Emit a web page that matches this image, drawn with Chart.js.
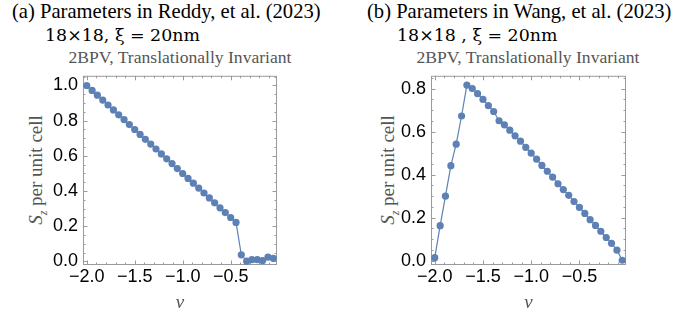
<!DOCTYPE html>
<html>
<head>
<meta charset="utf-8">
<script src="https://cdn.jsdelivr.net/npm/chart.js@4.4.1/dist/chart.umd.min.js"></script>
<style>
body { margin: 0; width: 680px; height: 318px; background: #fff; position: relative; overflow: hidden; }
.titulo { position: absolute; font-family: "Liberation Serif", serif; font-size: 20.6px; line-height: 21px; color: #000; white-space: nowrap; }
.linea2 { position: absolute; font-family: "DejaVu Serif", serif; font-size: 17.4px; line-height: 17px; color: #000; white-space: nowrap; }
.subtitulo { position: absolute; font-family: "Liberation Serif", serif; font-size: 17.6px; line-height: 17px; color: #555; white-space: nowrap; text-align: center; width: 260px; }
.ylabel { position: absolute; font-family: "Liberation Serif", serif; font-size: 19px; color: #555; white-space: nowrap; transform: translate(-50%, -50%) rotate(-90deg); }
.ylabel sub { font-size: 12px; }
.panel { position: absolute; top: 60px; width: 290px; height: 258px; }
</style>
</head>
<body>

<div class="titulo" style="left:12px; top:1px;">(a) Parameters in Reddy, et al. (2023)</div>
<div class="linea2" style="left:45px; top:27px;">18×18, ξ = 20nm</div>
<div class="subtitulo" style="left:50px; top:49px;">2BPV, Translationally Invariant</div>
<div class="ylabel" style="left:38px; top:170px;"><i>S</i><sub><i>z</i></sub> per unit cell</div>
<div class="panel" style="left:0px;"><canvas id="grafico-a" width="290" height="258"></canvas></div>

<div class="titulo" style="left:367px; top:1px;">(b) Parameters in Wang, et al. (2023)</div>
<div class="linea2" style="left:397px; top:27px;">18×18 , ξ = 20nm</div>
<div class="subtitulo" style="left:398px; top:49px;">2BPV, Translationally Invariant</div>
<div class="ylabel" style="left:390px; top:170px;"><i>S</i><sub><i>z</i></sub> per unit cell</div>
<div class="panel" style="left:348px;"><canvas id="grafico-b" width="290" height="258"></canvas></div>

<script>
// filling factor (same grid for both panels)
const nu = [-2.000, -1.944, -1.889, -1.833, -1.778, -1.722, -1.667, -1.611, -1.556, -1.500,
            -1.444, -1.389, -1.333, -1.278, -1.222, -1.167, -1.111, -1.056, -1.000, -0.944,
            -0.889, -0.833, -0.778, -0.722, -0.667, -0.611, -0.556, -0.500, -0.444, -0.389,
            -0.333, -0.278, -0.222, -0.167, -0.111, -0.056];

// (a) Reddy et al.
const szReddy = [1.000, 0.972, 0.945, 0.917, 0.889, 0.861, 0.833, 0.806, 0.778, 0.750,
                 0.722, 0.694, 0.667, 0.639, 0.611, 0.583, 0.556, 0.528, 0.500, 0.472,
                 0.445, 0.417, 0.389, 0.361, 0.333, 0.305, 0.278, 0.250, 0.222, 0.038,
                 0.002, 0.010, 0.010, 0.005, 0.025, 0.018];

// (b) Wang et al.
const szWang = [0.014, 0.163, 0.300, 0.442, 0.542, 0.673, 0.817, 0.801, 0.777, 0.750,
                0.721, 0.694, 0.651, 0.632, 0.607, 0.581, 0.556, 0.527, 0.500, 0.472,
                0.443, 0.416, 0.389, 0.358, 0.331, 0.304, 0.275, 0.248, 0.220, 0.191,
                0.164, 0.137, 0.108, 0.081, 0.049, 0.002];

const xTicks = [-2.0, -1.5, -1.0, -0.5];
const yTicksA = [0.0, 0.2, 0.4, 0.6, 0.8, 1.0];
const yTicksB = [0.0, 0.2, 0.4, 0.6, 0.8];

const azul = 'rgb(94,129,181)';
const grisMarco = '#9a9a9a';

// frame with inward ticks on all four sides, like Mathematica
const marcoPlugin = {
    id: 'marco',
    beforeDatasetsDraw(chart) {
        const ctx = chart.ctx;
        const a = chart.chartArea;
        const sx = chart.scales.x;
        const sy = chart.scales.y;
        ctx.save();
        ctx.strokeStyle = grisMarco;
        ctx.lineWidth = 1;
        ctx.strokeRect(a.left + 0.5, a.top + 0.5, a.right - a.left - 1, a.bottom - a.top - 1);

        const marca = (x1, y1, x2, y2) => {
            ctx.beginPath();
            ctx.moveTo(x1, y1);
            ctx.lineTo(x2, y2);
            ctx.stroke();
        };

        for (let i = Math.ceil(sx.min * 10); i <= Math.floor(sx.max * 10); i++) {
            const v = i / 10;
            const px = Math.round(sx.getPixelForValue(v)) + 0.5;
            const largo = (i % 5 === 0) ? 4.5 : 2.5;
            marca(px, a.bottom, px, a.bottom - largo);
            marca(px, a.top, px, a.top + largo);
        }
        for (let i = Math.ceil(sy.min * 20); i <= Math.floor(sy.max * 20); i++) {
            const v = i / 20;
            const py = Math.round(sy.getPixelForValue(v)) + 0.5;
            const largo = (i % 4 === 0) ? 4.5 : 2.5;
            marca(a.left, py, a.left + largo, py);
            marca(a.right, py, a.right - largo, py);
        }
        ctx.restore();
    }
};

function formatoMenos(v) {
    const s = Number(v).toFixed(1);
    return s.replace('-', '\u2212');
}

function crearPanel(id, valores, yTicks, yMax, padDer) {
    const puntos = nu.map((x, i) => ({ x: x, y: valores[i] }));
    return new Chart(document.getElementById(id), {
        type: 'line',
        data: {
            datasets: [{
                data: puntos,
                borderColor: azul,
                backgroundColor: azul,
                borderWidth: 1.2,
                pointRadius: 3.6,
                pointBorderWidth: 0,
                pointBackgroundColor: azul,
                tension: 0,
                clip: false
            }]
        },
        options: {
            responsive: false,
            animation: false,
            devicePixelRatio: 1,
            layout: { padding: { top: 12, right: padDer, bottom: 0, left: 0 } },
            plugins: { legend: { display: false }, tooltip: { enabled: false } },
            scales: {
                x: {
                    type: 'linear',
                    min: -2.039,
                    max: -0.017,
                    afterBuildTicks: s => { s.ticks = xTicks.map(v => ({ value: v })); },
                    afterFit: s => { s.height = 53; },
                    grid: { display: false, drawTicks: false },
                    border: { display: false },
                    ticks: {
                        color: '#000',
                        font: { family: 'Liberation Sans', size: 18 },
                        padding: 1,
                        maxRotation: 0,
                        autoSkip: false,
                        callback: v => formatoMenos(v)
                    },
                    title: {
                        display: true,
                        text: 'ν',
                        color: '#555',
                        font: { family: 'Liberation Serif', size: 19, style: 'italic' },
                        padding: { top: 0, bottom: 4 }
                    }
                },
                y: {
                    type: 'linear',
                    min: -0.02,
                    max: yMax,
                    afterBuildTicks: s => { s.ticks = yTicks.map(v => ({ value: v })); },
                    afterFit: s => { s.width = 83; },
                    grid: { display: false, drawTicks: false },
                    border: { display: false },
                    ticks: {
                        color: '#000',
                        font: { family: 'Liberation Sans', size: 18 },
                        padding: 5,
                        callback: v => formatoMenos(v)
                    }
                }
            }
        },
        plugins: [marcoPlugin]
    });
}

crearPanel('grafico-a', szReddy, yTicksA, 1.055, 13);
crearPanel('grafico-b', szWang, yTicksB, 0.86, 12);
</script>
</body>
</html>
